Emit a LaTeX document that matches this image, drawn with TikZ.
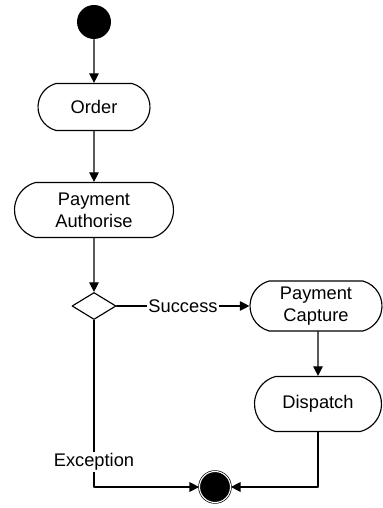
\documentclass[tikz,border=0pt]{standalone}
\usepackage{fontspec}
\setmainfont{Liberation Sans}
\usetikzlibrary{arrows.meta,shapes.geometric,shapes.misc}

\begin{document}
\begin{tikzpicture}[line cap=round,line join=round,>={Triangle[length=5.5pt,width=5.5pt]},x=1.0cm,y=1.0cm,
  every node/.style={font=\fontsize{10.4}{12.5}\selectfont},
  action/.style={draw,line width=0.65pt,rounded rectangle,rounded rectangle arc length=150,align=center,inner sep=0pt},
  decision/.style={draw,line width=0.65pt,diamond,inner sep=0pt,minimum width=0.88cm,minimum height=0.54cm},
  flow/.style={line width=0.65pt}]
\useasboundingbox (0,0) rectangle (7.66,10.16);

\node[circle,fill=black,inner sep=0pt,minimum size=0.68cm] (start) at (1.88,9.72) {};
\node[action,minimum width=2.24cm,minimum height=0.94cm] (order) at (1.88,8.02) {Order};
\node[action,minimum width=3.18cm,minimum height=1.10cm] (auth) at (1.88,5.96) {Payment\\Authorise};
\node[decision] (check) at (1.88,4.04) {};
\node[action,minimum width=2.64cm,minimum height=1.00cm] (capture) at (6.32,4.04) {Payment\\Capture};
\node[action,minimum width=2.54cm,minimum height=1.10cm] (dispatch) at (6.36,2.08) {Dispatch};
\node[circle,fill=black,draw=black,double=white,double distance=0.6pt,line width=0.4pt,inner sep=0pt,minimum size=0.62cm] (finish) at (4.30,0.42) {};

\draw[flow,->] (start) -- (order);
\draw[flow,->] (order) -- (auth);
\draw[flow,->] (auth) -- (check);
\draw[flow,->] (check) -- node[fill=white,inner sep=1pt] {Success} (capture);
\draw[flow,->] (dispatch.north |- capture.south) -- (dispatch);
\draw[flow,->] (dispatch) |- (finish);
\draw[flow,->] (check) |- node[pos=0.425,fill=white,inner sep=1pt] {Exception} (finish);

\end{tikzpicture}
\end{document}
